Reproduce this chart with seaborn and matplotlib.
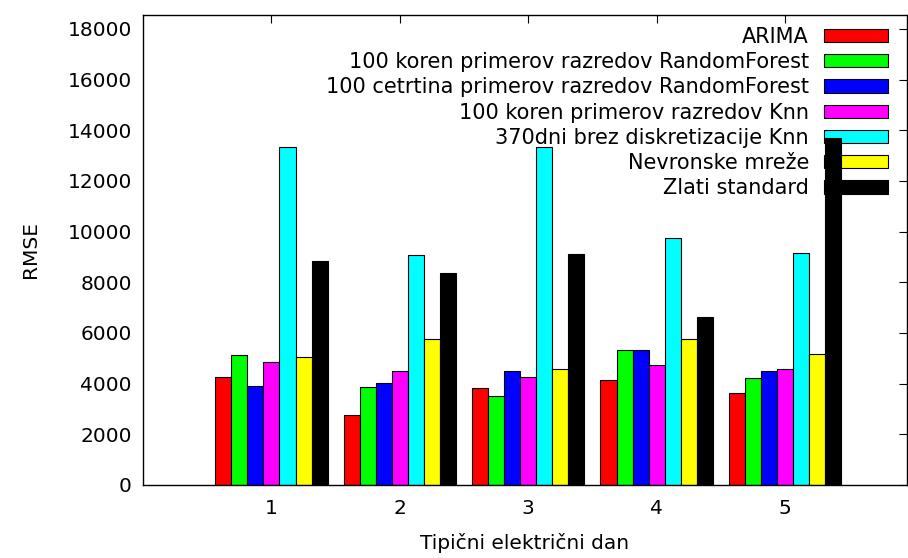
import pandas as pd
import seaborn as sns
import matplotlib.pyplot as plt

days = ["1", "2", "3", "4", "5"]
methods = [
    "ARIMA",
    "100 koren primerov razredov RandomForest",
    "100 cetrtina primerov razredov RandomForest",
    "100 koren primerov razredov Knn",
    "370dni brez diskretizacije Knn",
    "Nevronske mreže",
    "Zlati standard",
]
arima = [4275, 2763, 3816, 4132, 3619]
rf_koren = [5144, 3856, 3513, 5343, 4237]
rf_cetrtina = [3908, 4014, 4488, 5317, 4488]
knn_koren = [4856, 4488, 4264, 4725, 4580]
knn_370 = [13355, 9068, 13355, 9751, 9171]
nevronske = [5065, 5764, 4593, 5777, 5184]
zlati = [8830, 8356, 9107, 6620, 13711]
colors = ["#ff0000", "#00ff00", "#0000ff", "#ff00ff", "#00ffff", "#ffff00", "#000000"]

series = [arima, rf_koren, rf_cetrtina, knn_koren, knn_370, nevronske, zlati]
df = pd.DataFrame(
    [{"dan": d, "metoda": m, "rmse": v} for m, vals in zip(methods, series) for d, v in zip(days, vals)]
)

sns.set_style("white")
plt.rcParams["font.family"] = ["DejaVu Sans"]
plt.rcParams["font.size"] = 14.5
plt.rcParams["text.color"] = "black"
plt.rcParams["axes.labelcolor"] = "black"

fig = plt.figure(figsize=(9.08, 5.58), dpi=100)
ax = fig.add_axes([0.1575, 0.131, 0.8415, 0.842])
sns.barplot(data=df, x="dan", y="rmse", hue="metoda", order=days, hue_order=methods,
            palette=colors, saturation=1, width=0.875, edgecolor="black", linewidth=0.8,
            ax=ax)

ax.set_xlim(-1, 4.95)
ax.set_ylim(0, 18550)
ax.set_yticks(range(0, 18001, 2000))
ax.set_xlabel("Tipični električni dan", labelpad=11, fontsize=14.5)
ax.set_ylabel("RMSE", labelpad=20, fontsize=14.5)
ax.tick_params(direction="in", length=6, width=0.8, top=True, right=True,
               labelsize=14.5, pad=10, colors="black")
ax.tick_params(axis="y", pad=8)
for s in ax.spines.values():
    s.set_linewidth(1)
    s.set_color("black")

handles, labels = ax.get_legend_handles_labels()
ax.get_legend().remove()
leg = ax.legend(handles, labels, loc="upper right", frameon=False, markerfirst=False,
                fontsize=15, handlelength=3.07, handleheight=0.6, handletextpad=0.72,
                labelspacing=0.25, borderpad=0, borderaxespad=0,
                bbox_to_anchor=(888 / 908, 1 - 27 / 558), bbox_transform=fig.transFigure)
leg.set_zorder(0)

fig.savefig("out.png", dpi=100)
